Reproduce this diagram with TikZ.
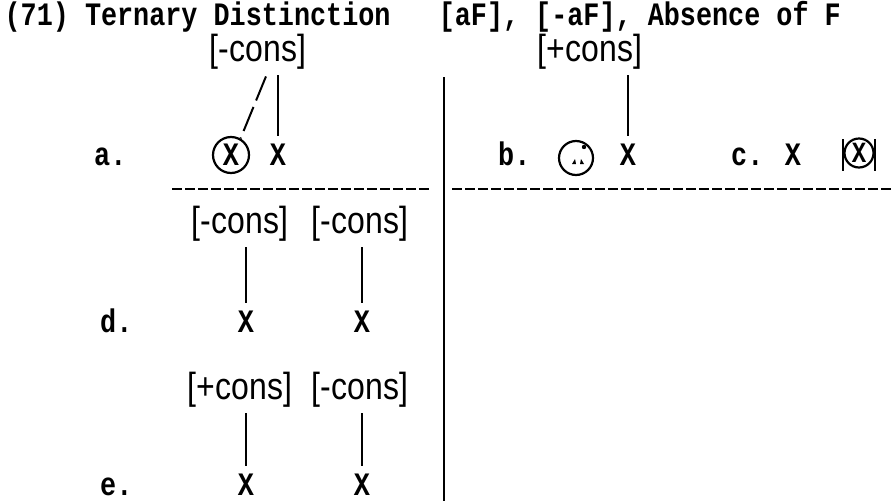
\documentclass[tikz,border=0pt]{standalone}
\usepackage{graphicx}
\usepackage{fontspec}
\setmainfont{Liberation Mono}
\newfontfamily\lblfont{Liberation Sans}
\usetikzlibrary{calc}
\newcommand{\vstretch}[1]{\scalebox{1}[1.22]{#1}}
\newcommand{\lstretch}[1]{\scalebox{1}[1.18]{#1}}
\tikzset{
  tw/.style={font=\fontsize{26.8}{30}\selectfont\bfseries, inner sep=0pt, anchor=base},
  lbl/.style={font=\lblfont\fontsize{32}{36}\selectfont, inner sep=0pt, anchor=base},
  assoc/.style={line width=2pt, shorten <=6pt, shorten >=7pt},
  ring/.style={circle, draw, line width=2.2pt, inner sep=0pt},
  rule/.style={line width=2.4pt, dash pattern=on 10pt off 3pt},
  divider/.style={line width=2.2pt}
}
\begin{document}
\begin{tikzpicture}[x=1pt,y=-1pt]
\useasboundingbox (0,0) rectangle (894,501);
% title
\node[tw, anchor=base west] (title) at (4.4,25) {\vstretch{(71) Ternary Distinction\ \ \ [aF], [-aF], Absence of F}};
% divider and rules
\coordinate (divtop) at (444,77);
\coordinate (divbot) at (444,501);
\draw[divider] (divtop) -- (divbot);
\coordinate (rl1) at (172,189);
\coordinate (rl2) at (431,189);
\coordinate (rr1) at (452,189);
\coordinate (rr2) at (894,189);
\draw[rule] (rl1) -- (rl2);
\draw[rule] (rr1) -- (rr2);
% row a
\node[lbl] (la) at (258,61) {\lstretch{[-cons]}};
\node[tw, anchor=base west] (alab) at (94,165) {\vstretch{a.}};
\node[ring, minimum size=36pt, font=\fontsize{26.8}{30}\selectfont\bfseries] (ax1) at (231,155) {\vstretch{X}};
\node[tw] (ax2) at (278,165) {\vstretch{X}};
\draw[assoc] (ax2.north |- la.south) -- (ax2.north);
\draw[line width=2pt, dash pattern=on 26pt off 7pt, shorten <=8pt] ([xshift=11pt]la.south) -- (ax1.60);
% row b
\node[lbl] (lb) at (590,61) {\lstretch{[+cons]}};
\node[tw, anchor=base west] (blab) at (498,165) {\vstretch{b.}};
\node[ring, minimum size=34pt] (bx1) at (576,158) {};
\fill ([shift={(8,-11)}]bx1.center) circle (2.2pt);
\fill ([shift={(-4,6)}]bx1.center) -- ++(4,0) -- ++(-1,-5) -- cycle;
\fill ([shift={(4,6)}]bx1.center) -- ++(4,0) -- ++(-3,-5) -- cycle;
\node[tw] (bx2) at (628,165) {\vstretch{X}};
\draw[assoc] (bx2.north |- lb.south) -- (bx2.north);
% row c
\node[tw, anchor=base west] (clab) at (731,165) {\vstretch{c.}};
\node[tw] (cx1) at (793,165) {\vstretch{X}};
\node[ring, minimum size=29pt, font=\fontsize{24}{26}\selectfont\bfseries] (cx2) at (859,153) {\vstretch{X}};
\coordinate (cbl1) at (843,139);
\coordinate (cbl2) at (843,171);
\coordinate (cbr1) at (875,139);
\coordinate (cbr2) at (875,171);
\draw[line width=2.2pt] (cbl1) -- (cbl2);
\draw[line width=2.2pt] (cbr1) -- (cbr2);
% row d
\node[lbl] (ld1) at (240,233) {\lstretch{[-cons]}};
\node[lbl] (ld2) at (360,233) {\lstretch{[-cons]}};
\node[tw, anchor=base west] (dlab) at (100,332) {\vstretch{d.}};
\node[tw] (dx1) at (246,332) {\vstretch{X}};
\node[tw] (dx2) at (362,332) {\vstretch{X}};
\draw[assoc] (dx1.north |- ld1.south) -- (dx1.north);
\draw[assoc] (dx2.north |- ld2.south) -- (dx2.north);
% row e
\node[lbl] (le1) at (240,399) {\lstretch{[+cons]}};
\node[lbl] (le2) at (360,399) {\lstretch{[-cons]}};
\node[tw, anchor=base west] (elab) at (100,495) {\vstretch{e.}};
\node[tw] (ex1) at (246,495) {\vstretch{X}};
\node[tw] (ex2) at (362,495) {\vstretch{X}};
\draw[assoc] (ex1.north |- le1.south) -- (ex1.north);
\draw[assoc] (ex2.north |- le2.south) -- (ex2.north);
\end{tikzpicture}
\end{document}
